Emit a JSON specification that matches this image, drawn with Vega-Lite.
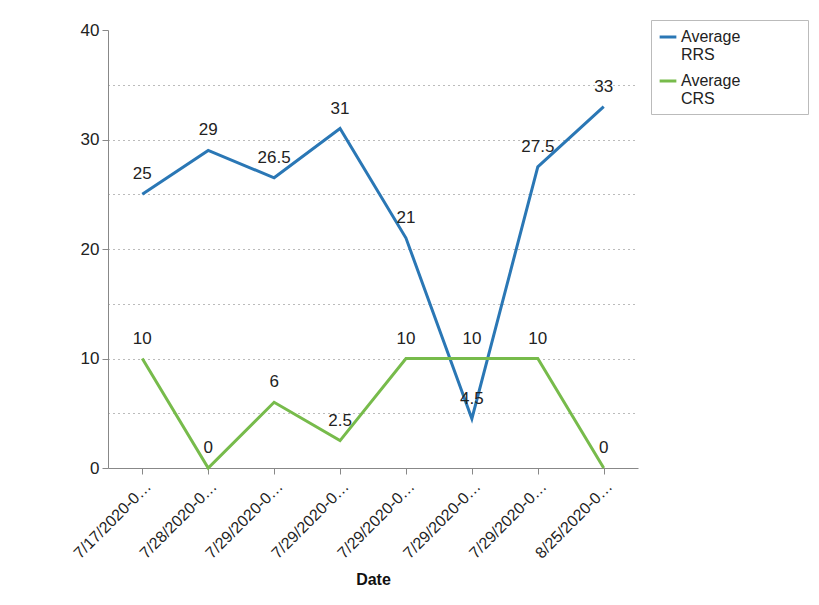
{
  "$schema": "https://vega.github.io/schema/vega-lite/v6.json",
  "width": 530,
  "height": 438,
  "autosize": {"type": "none"},
  "padding": {"left": 108, "top": 30, "right": 181, "bottom": 137},
  "background": "white",
  "config": {"font": "Liberation Sans", "view": {"stroke": null}},
  "data": {
    "values": [
      {"Date": "7/17/2020-0…|1", "Series": "Average RRS", "Value": 25},
      {"Date": "7/28/2020-0…|2", "Series": "Average RRS", "Value": 29},
      {"Date": "7/29/2020-0…|3", "Series": "Average RRS", "Value": 26.5},
      {"Date": "7/29/2020-0…|4", "Series": "Average RRS", "Value": 31},
      {"Date": "7/29/2020-0…|5", "Series": "Average RRS", "Value": 21},
      {"Date": "7/29/2020-0…|6", "Series": "Average RRS", "Value": 4.5},
      {"Date": "7/29/2020-0…|7", "Series": "Average RRS", "Value": 27.5},
      {"Date": "8/25/2020-0…|8", "Series": "Average RRS", "Value": 33},
      {"Date": "7/17/2020-0…|1", "Series": "Average CRS", "Value": 10},
      {"Date": "7/28/2020-0…|2", "Series": "Average CRS", "Value": 0},
      {"Date": "7/29/2020-0…|3", "Series": "Average CRS", "Value": 6},
      {"Date": "7/29/2020-0…|4", "Series": "Average CRS", "Value": 2.5},
      {"Date": "7/29/2020-0…|5", "Series": "Average CRS", "Value": 10},
      {"Date": "7/29/2020-0…|6", "Series": "Average CRS", "Value": 10},
      {"Date": "7/29/2020-0…|7", "Series": "Average CRS", "Value": 10},
      {"Date": "8/25/2020-0…|8", "Series": "Average CRS", "Value": 0}
    ]
  },
  "encoding": {
    "x": {
      "field": "Date",
      "type": "ordinal",
      "sort": null,
      "scale": {"type": "point", "padding": 0.52},
      "axis": {
        "title": "Date",
        "titleFontSize": 16,
        "titleFontWeight": "bold",
        "titleColor": "#111",
        "titlePadding": 10,
        "labelExpr": "split(datum.label, '|')[0]",
        "labelAngle": -45,
        "labelFontSize": 16,
        "labelColor": "#222",
        "labelPadding": 4,
        "tickSize": 6,
        "tickColor": "#888",
        "domainColor": "#888",
        "grid": false
      }
    },
    "color": {
      "field": "Series",
      "type": "nominal",
      "scale": {"domain": ["Average RRS", "Average CRS"], "range": ["#2a77b5", "#77bb4b"]},
      "legend": {
        "title": null,
        "orient": "none",
        "legendX": 543,
        "legendY": -10,
        "strokeColor": "#bbb",
        "padding": 7,
        "symbolType": "stroke",
        "symbolStrokeWidth": 3,
        "symbolSize": 280,
        "labelFontSize": 16,
        "labelColor": "#222",
        "labelOffset": 3,
        "labelExpr": "[split(datum.label, ' ')[0] + '\u2800\u2800\u2800\u2800\u2800', split(datum.label, ' ')[1]]",
        "rowPadding": 8
      }
    }
  },
  "layer": [
    {
      "mark": {"type": "line", "strokeWidth": 3},
      "encoding": {
        "y": {
          "field": "Value",
          "type": "quantitative",
          "scale": {"domain": [0, 40], "nice": false},
          "axis": {
            "orient": "left",
            "values": [5, 10, 15, 20, 25, 30, 35],
            "labels": false,
            "ticks": false,
            "domain": false,
            "title": null,
            "grid": true,
            "gridDash": [1, 4],
            "gridColor": "#777",
            "gridWidth": 1
          }
        }
      }
    },
    {
      "mark": {"type": "text", "fontSize": 17, "color": "#222", "dy": -20},
      "encoding": {
        "y": {
          "field": "Value",
          "type": "quantitative",
          "scale": {"domain": [0, 40], "nice": false},
          "axis": {
            "orient": "left",
            "values": [0, 10, 20, 30, 40],
            "title": null,
            "grid": false,
            "labelFontSize": 17,
            "labelColor": "#222",
            "tickSize": 6,
            "tickColor": "#888",
            "domainColor": "#888",
            "labelPadding": 3
          }
        },
        "text": {"field": "Value", "type": "quantitative"},
        "color": {"value": "#222"}
      }
    }
  ],
  "resolve": {"axis": {"y": "independent"}}
}
